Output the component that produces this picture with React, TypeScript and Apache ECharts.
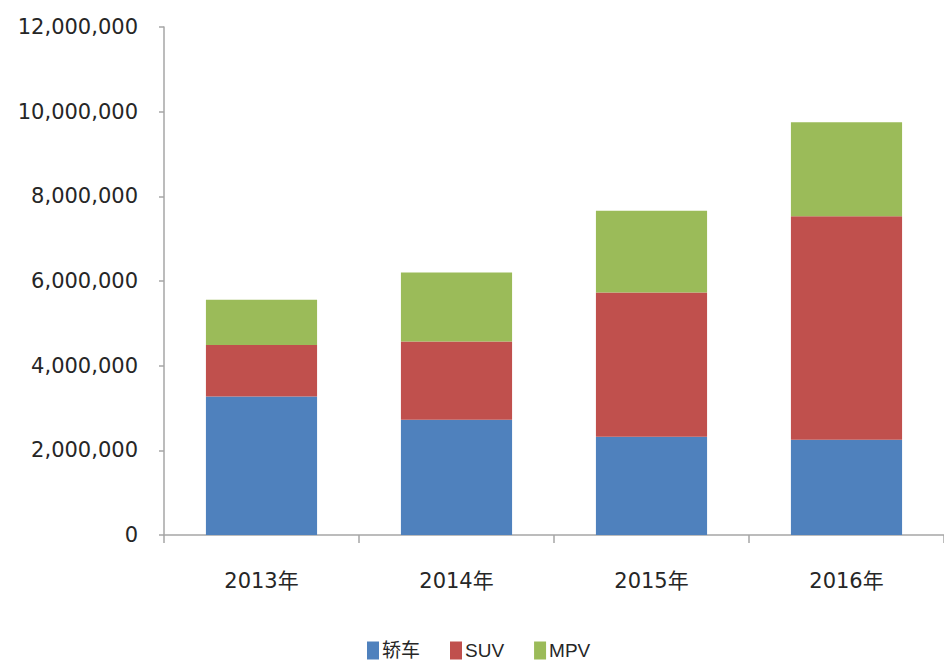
import React, { useEffect, useRef } from "react";
import * as echarts from "echarts";

const categories = ["2013年", "2014年", "2015年", "2016年"];
const sedan = [3270000, 2720000, 2320000, 2250000];
const suv = [1220000, 1850000, 3410000, 5280000];
const mpv = [1070000, 1630000, 1930000, 2220000];
const yTicks = [0, 2000000, 4000000, 6000000, 8000000, 10000000, 12000000];

export default function App() {
  const ref = useRef<HTMLDivElement>(null);
  useEffect(() => {
    document.body.style.margin = "0";
    const chart = echarts.init(ref.current!, undefined, { renderer: "svg" });
    const axisColor = "#a6a6a6";
    const labelFont = "DejaVu Sans, Noto Sans CJK SC, sans-serif";
    chart.setOption({
      animation: false,
      backgroundColor: "#ffffff",
      grid: { left: 164, right: -2, top: 27, bottom: 131, containLabel: false },
      legend: {
        left: 362,
        top: 636,
        itemWidth: 12,
        itemHeight: 18,
        itemGap: 30,
        icon: "rect",
        textStyle: { fontSize: 19, color: "#262626", fontFamily: "Liberation Sans, Noto Sans CJK SC, sans-serif", padding: [0, 0, 0, -2] },
        data: ["轿车", "SUV", "MPV"],
      },
      xAxis: {
        type: "category",
        data: categories,
        axisLine: { lineStyle: { color: axisColor, width: 1.5 } },
        axisTick: { show: true, length: 8, lineStyle: { color: axisColor, width: 1.5 } },
        axisLabel: { margin: 35, fontSize: 21, color: "#262626", fontFamily: labelFont },
        splitLine: { show: false },
      },
      yAxis: {
        type: "value",
        min: 0,
        max: 12000000,
        interval: 2000000,
        axisLine: { show: true, lineStyle: { color: axisColor, width: 1.5 } },
        axisTick: { show: true, length: 5, lineStyle: { color: axisColor, width: 1.5 } },
        splitLine: { show: false },
        axisLabel: {
          margin: 26,
          fontSize: 21,
          color: "#262626",
          fontFamily: labelFont,
          formatter: (v: number) => (yTicks.includes(v) ? v.toLocaleString("en-US") : ""),
        },
      },
      series: [
        { name: "轿车", type: "bar", stack: "total", data: sedan, barWidth: "57%", itemStyle: { color: "#4F81BD" } },
        { name: "SUV", type: "bar", stack: "total", data: suv, barWidth: "57%", itemStyle: { color: "#C0504D" } },
        { name: "MPV", type: "bar", stack: "total", data: mpv, barWidth: "57%", itemStyle: { color: "#9BBB59" } },
      ],
    });
    return () => chart.dispose();
  }, []);
  return <div ref={ref} style={{ width: 944, height: 666, position: "fixed", left: 0, top: 0 }} />;
}
